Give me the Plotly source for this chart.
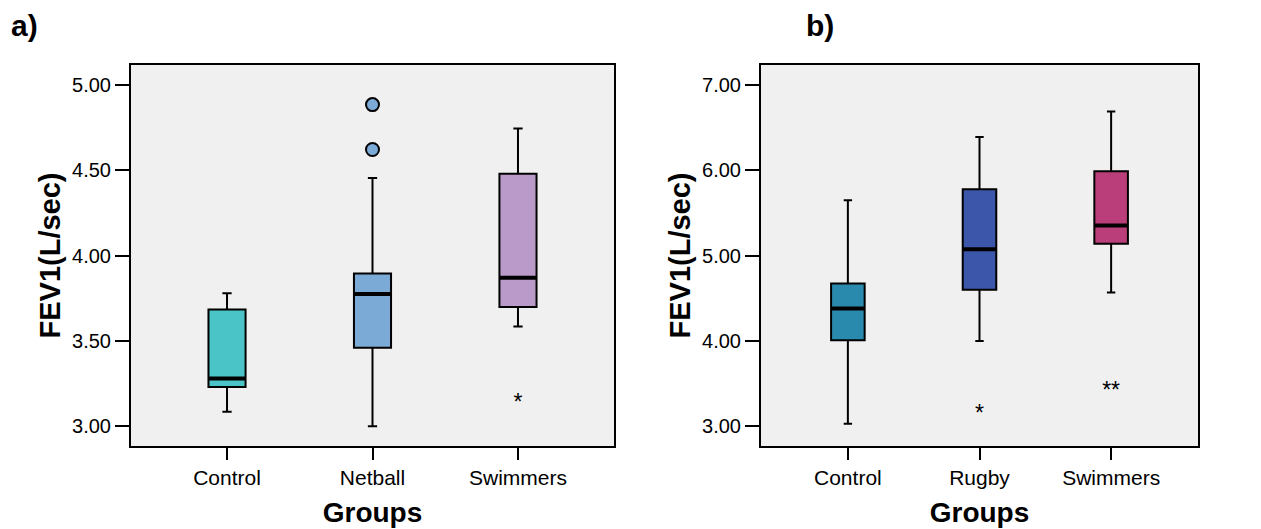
import plotly.graph_objects as go

# ---- data ----
groups_a = ["Control", "Netball", "Swimmers"]
q1_a = [3.23, 3.46, 3.70]
median_a = [3.28, 3.775, 3.87]
q3_a = [3.685, 3.895, 4.48]
low_a = [3.085, 3.00, 3.585]
high_a = [3.78, 4.455, 4.745]
colors_a = ["#4BC4C7", "#7BAAD6", "#B99AC9"]
circle_out_x_a = ["Netball", "Netball"]
circle_out_y_a = [4.885, 4.622]
star_out_x_a = ["Swimmers"]
star_out_y_a = [3.128]
star_out_t_a = ["*"]

groups_b = ["Control", "Rugby", "Swimmers"]
q1_b = [4.01, 4.60, 5.14]
median_b = [4.38, 5.075, 5.355]
q3_b = [4.675, 5.78, 5.99]
low_b = [3.03, 4.00, 4.57]
high_b = [5.65, 6.39, 6.69]
colors_b = ["#2A8AAE", "#3C57A9", "#BA3E7A"]
star_out_x_b = ["Rugby", "Swimmers"]
star_out_y_b = [3.125, 3.405]
star_out_t_b = ["*", "**"]

ytick_a = [3.0, 3.5, 4.0, 4.5, 5.0]
ytick_b = [3.0, 4.0, 5.0, 6.0, 7.0]

FONT = "Arial, Liberation Sans, sans-serif"
fig = go.Figure()

def add_panel(groups, q1, med, q3, lo, hi, colors, xa, ya):
    for i, g in enumerate(groups):
        fig.add_trace(go.Box(
            x=[g], q1=[q1[i]], median=[med[i]], q3=[q3[i]],
            lowerfence=[lo[i]], upperfence=[hi[i]],
            fillcolor=colors[i], line=dict(color="black", width=2),
            width=0.255, whiskerwidth=0.25, boxpoints=False,
            xaxis=xa, yaxis=ya, showlegend=False, hoverinfo="skip"))
        # thick median line
        fig.add_trace(go.Box(
            x=[g], q1=[med[i]], median=[med[i]], q3=[med[i]],
            lowerfence=[med[i]], upperfence=[med[i]],
            fillcolor="rgba(0,0,0,0)", line=dict(color="black", width=4),
            width=0.255, whiskerwidth=0, boxpoints=False,
            xaxis=xa, yaxis=ya, showlegend=False, hoverinfo="skip"))

add_panel(groups_a, q1_a, median_a, q3_a, low_a, high_a, colors_a, "x", "y")
add_panel(groups_b, q1_b, median_b, q3_b, low_b, high_b, colors_b, "x2", "y2")

fig.add_trace(go.Scatter(
    x=circle_out_x_a, y=circle_out_y_a, mode="markers",
    marker=dict(size=13, color=colors_a[1], line=dict(color="black", width=2)),
    xaxis="x", yaxis="y", showlegend=False, hoverinfo="skip"))
fig.add_trace(go.Scatter(
    x=star_out_x_a, y=star_out_y_a, mode="text", text=star_out_t_a,
    textposition="middle center", textfont=dict(family=FONT, size=23, color="black"),
    xaxis="x", yaxis="y", showlegend=False, hoverinfo="skip"))
fig.add_trace(go.Scatter(
    x=star_out_x_b, y=star_out_y_b, mode="text", text=star_out_t_b,
    textposition="middle center", textfont=dict(family=FONT, size=23, color="black"),
    xaxis="x2", yaxis="y2", showlegend=False, hoverinfo="skip"))

# page is rendered with an 8px body margin; positions below are screen pixels
OFF = 8
W, H = 1253, 521
def xdom(a, b):
    return [(a - OFF) / W, (b - OFF) / W]
ydom = [1 - (446 - OFF) / H, 1 - (65 - OFF) / H]

common_x = dict(
    type="category", range=[-0.66, 2.66], showline=True, mirror=True,
    linecolor="black", linewidth=2, ticks="outside", ticklen=12, tickwidth=2,
    tickcolor="black", showgrid=False, zeroline=False,
    tickfont=dict(family=FONT, size=21, color="black"),
    title=dict(text="<b>Groups</b>", font=dict(family=FONT, size=28, color="black"), standoff=14),
)
common_y = dict(
    showline=True, mirror=True, linecolor="black", linewidth=2,
    ticks="outside", ticklen=14, tickwidth=2, tickcolor="black",
    showgrid=False, zeroline=False, tickformat=".2f",
    tickfont=dict(family=FONT, size=20, color="black"),
    title=dict(text="<b>FEV1(L/sec)</b>", font=dict(family=FONT, size=29, color="black"), standoff=3),
)

fig.update_layout(
    width=W, height=H, autosize=False,
    margin=dict(l=0, r=0, t=0, b=0),
    paper_bgcolor="white", plot_bgcolor="#F0F0F0",
    font=dict(family=FONT, color="black"),
    xaxis=dict(common_x, domain=xdom(131, 614), anchor="y"),
    yaxis=dict(common_y, domain=ydom, anchor="x", range=[2.885, 5.117], tickvals=ytick_a),
    xaxis2=dict(common_x, domain=xdom(761, 1198), anchor="y2"),
    yaxis2=dict(common_y, domain=ydom, anchor="x2", range=[2.77, 7.235], tickvals=ytick_b),
    annotations=[
        dict(text="<b>a)</b>", x=(9 - OFF) / W, y=1 - (25 - OFF) / H, xref="paper", yref="paper",
             xanchor="left", yanchor="middle", showarrow=False,
             font=dict(family=FONT, size=30, color="black")),
        dict(text="<b>b)</b>", x=(804 - OFF) / W, y=1 - (25 - OFF) / H, xref="paper", yref="paper",
             xanchor="left", yanchor="middle", showarrow=False,
             font=dict(family=FONT, size=30, color="black")),
    ],
)

fig.write_html("out.html")
